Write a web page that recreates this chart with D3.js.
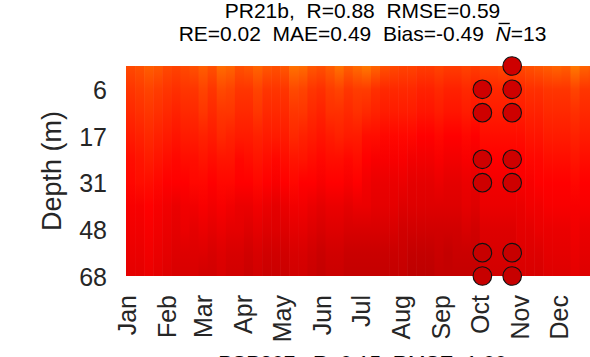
<!DOCTYPE html>
<html><head><meta charset="utf-8">
<script src="https://cdn.jsdelivr.net/npm/d3@7"></script>
<style>
html,body{margin:0;padding:0;background:#fff;}
svg{display:block;font-family:"Liberation Sans",Arial,sans-serif;}
</style></head>
<body><svg id="c" width="590" height="357"></svg>
<script>
// depth levels (m) for each row of the model grid
const depthLevels = [1, 6, 11, 17, 24, 31, 39, 48, 58, 68];
const depthTickRows = [1, 3, 5, 7, 9];
const monthNames = ["Jan","Feb","Mar","Apr","May","Jun","Jul","Aug","Sep","Oct","Nov","Dec"];
const monthStartDays = [1, 32, 60, 91, 121, 152, 182, 213, 244, 274, 305, 335];
// weekly model values (52 weeks) per depth level
const t01m = [28.3,28.4,28.6,28.5,28.3,28.2,28.3,28.4,28.6,28.4,28.8,28.7,28.4,28.5,28.7,28.5,28.4,28.5,28.9,28.8,28.5,28.4,28.6,28.9,28.6,28.8,29.0,28.7,28.4,28.3,28.2,28.2,28.1,28.1,28.2,28.1,28.1,28.2,28.1,28.2,28.2,28.3,28.2,28.3,28.4,28.5,28.6,28.7,28.6,29.0,28.7,28.6];
const t06m = [28.0,28.1,28.2,28.1,28.0,27.9,28.0,28.0,28.2,28.0,28.3,28.2,28.0,28.0,28.2,28.0,28.0,28.0,28.3,28.2,28.0,27.9,28.1,28.2,28.0,28.1,28.1,27.9,27.8,27.8,27.8,27.8,27.7,27.7,27.8,27.7,27.7,27.8,27.7,27.8,27.8,27.8,27.8,27.8,27.9,27.9,28.0,28.0,28.0,28.2,28.0,28.0];
const t11m = [27.8,27.9,28.0,27.9,27.8,27.7,27.8,27.8,28.0,27.8,28.0,28.0,27.8,27.8,28.0,27.8,27.8,27.8,28.0,28.0,27.8,27.7,27.9,27.9,27.8,27.9,27.8,27.7,27.6,27.6,27.6,27.6,27.5,27.5,27.6,27.5,27.5,27.6,27.5,27.6,27.6,27.6,27.6,27.6,27.7,27.7,27.8,27.8,27.8,27.9,27.8,27.8];
const t17m = [27.6,27.7,27.8,27.7,27.6,27.5,27.6,27.6,27.7,27.6,27.8,27.7,27.6,27.6,27.7,27.6,27.6,27.6,27.8,27.7,27.6,27.5,27.6,27.7,27.6,27.6,27.4,27.4,27.3,27.3,27.3,27.3,27.2,27.2,27.3,27.2,27.2,27.3,27.2,27.4,27.4,27.4,27.4,27.4,27.5,27.5,27.6,27.6,27.6,27.7,27.6,27.6];
const t24m = [27.4,27.5,27.6,27.5,27.4,27.3,27.4,27.4,27.5,27.4,27.5,27.5,27.3,27.4,27.5,27.4,27.3,27.4,27.5,27.5,27.4,27.3,27.4,27.4,27.3,27.4,27.2,27.1,27.1,27.1,27.1,27.0,27.0,27.0,27.1,27.0,27.0,27.1,27.0,27.2,27.2,27.2,27.2,27.2,27.3,27.3,27.4,27.4,27.4,27.5,27.4,27.4];
const t31m = [27.3,27.4,27.4,27.3,27.2,27.2,27.2,27.3,27.3,27.2,27.3,27.3,27.2,27.2,27.3,27.2,27.1,27.2,27.3,27.2,27.2,27.1,27.2,27.2,27.1,27.2,27.0,26.9,26.9,26.9,26.9,26.8,26.8,26.8,26.9,26.8,26.8,26.9,26.8,27.0,27.0,27.0,27.0,27.1,27.1,27.2,27.2,27.2,27.2,27.3,27.2,27.2];
const t39m = [27.1,27.1,27.2,27.1,27.0,26.9,27.0,27.0,27.1,27.0,27.1,27.0,26.9,26.9,27.0,26.9,26.8,26.9,27.0,27.0,26.9,26.8,26.9,26.9,26.8,26.9,26.9,26.8,26.8,26.8,26.7,26.7,26.7,26.7,26.7,26.7,26.7,26.8,26.7,26.9,26.9,26.9,26.9,26.9,27.0,27.0,27.1,27.1,27.1,27.1,27.1,27.1];
const t48m = [27.0,27.0,27.1,27.0,26.9,26.8,26.9,26.8,26.9,26.8,26.9,26.8,26.8,26.7,26.8,26.7,26.7,26.7,26.8,26.8,26.7,26.6,26.7,26.7,26.6,26.6,26.6,26.6,26.6,26.6,26.5,26.5,26.5,26.5,26.5,26.5,26.5,26.6,26.5,26.7,26.7,26.7,26.7,26.8,26.8,26.9,26.9,26.9,26.9,27.0,26.9,26.9];
const t58m = [26.9,26.9,27.0,26.9,26.8,26.7,26.7,26.7,26.7,26.6,26.7,26.6,26.6,26.5,26.6,26.5,26.5,26.5,26.6,26.6,26.5,26.4,26.5,26.5,26.4,26.4,26.4,26.4,26.4,26.4,26.4,26.3,26.3,26.3,26.4,26.3,26.4,26.4,26.4,26.6,26.6,26.6,26.6,26.7,26.7,26.7,26.8,26.8,26.8,26.9,26.8,26.8];
const t68m = [26.8,26.8,26.9,26.8,26.7,26.6,26.6,26.6,26.5,26.5,26.6,26.5,26.5,26.4,26.5,26.4,26.4,26.4,26.5,26.5,26.4,26.3,26.4,26.4,26.3,26.3,26.3,26.3,26.3,26.3,26.3,26.2,26.2,26.2,26.3,26.3,26.3,26.3,26.3,26.5,26.5,26.5,26.6,26.6,26.6,26.6,26.7,26.7,26.7,26.8,26.7,26.7];
const modelRows = [t01m,t06m,t11m,t17m,t24m,t31m,t39m,t48m,t58m,t68m];
// observations (day of year, row index, value)
const obsDay = [276,276,276,276,276,276,299,299,299,299,299,299,299];
const obsRow = [1,2,4,5,8,9,0,1,2,4,5,8,9];
const obsVal = [26.45,26.45,26.45,26.45,26.35,26.35,26.45,26.45,26.45,26.45,26.45,26.35,26.35];
const titleLine1 = "PR21b,  R=0.88  RMSE=0.59";
const titleLine2a = "RE=0.02  MAE=0.49  Bias=-0.49  ";
const titleLine2N = "N";
const titleLine2b = "=13";
const nextTitle = "PSP307,  R=0.15  RMSE=1.00";

const svg = d3.select("#c");
const x = d3.scaleLinear().domain([1, 366]).range([126, 599]);
const y = d3.scaleLinear().domain([0, 9]).range([66, 276]);
const color = d3.scaleLinear().domain([26.0, 27.2, 29.0]).range(["#b00000", "#ff0000", "#ff7800"]).clamp(true);

const defs = svg.append("defs");
defs.append("clipPath").attr("id","plotclip").append("rect")
  .attr("x", x(1)).attr("y", y(0)).attr("width", x(366)-x(1)).attr("height", y(9)-y(0));

const nWeeks = t01m.length;
const weeks = d3.range(nWeeks);
weeks.forEach(w => {
  const g = defs.append("linearGradient").attr("id","col"+w)
    .attr("x1",0).attr("x2",0).attr("y1",0).attr("y2",1);
  modelRows.forEach((row,i) => {
    g.append("stop").attr("offset", (i/9*100)+"%").attr("stop-color", color(row[w]));
  });
});
const heat = svg.append("g").attr("clip-path","url(#plotclip)");
heat.selectAll("rect").data(weeks).join("rect")
  .attr("x", w => x(1 + 7*w))
  .attr("width", w => x(w === nWeeks-1 ? 366 : 8 + 7*w) - x(1 + 7*w) + 0.6)
  .attr("y", y(0)).attr("height", y(9)-y(0))
  .attr("fill", w => "url(#col"+w+")");

// observation circles
const circ = svg.append("g");
circ.selectAll("circle").data(obsDay.map((d,i)=>({d, r:obsRow[i], v:obsVal[i]}))).join("circle")
  .attr("cx", o => x(o.d)).attr("cy", o => y(o.r)).attr("r", 9.3)
  .attr("fill", o => color(o.v)).attr("stroke","#111").attr("stroke-width",1.1);

// y axis
const yAxis = d3.axisLeft(y).tickValues(depthTickRows).tickFormat(i => depthLevels[i]).tickSize(0).tickPadding(19);
const ya = svg.append("g").attr("transform","translate("+x(1)+",0)").call(yAxis);
ya.select(".domain").remove();
ya.selectAll("text").attr("font-size",25).attr("font-family","Liberation Sans, Arial, sans-serif").attr("fill","#262626").attr("dy","0.36em");

// x axis
const xAxis = d3.axisBottom(x).tickValues(monthStartDays).tickFormat((d,i)=>monthNames[i]).tickSize(0).tickPadding(0);
const xa = svg.append("g").attr("transform","translate(0,"+y(9)+")").call(xAxis);
xa.select(".domain").remove();
xa.selectAll("text").attr("font-size",25).attr("font-family","Liberation Sans, Arial, sans-serif").attr("fill","#262626")
  .attr("text-anchor","end").attr("transform","rotate(-90)").attr("x",-19).attr("y",0).attr("dy","0.36em");

// y label
svg.append("text").attr("transform","translate(61,171) rotate(-90)").attr("text-anchor","middle")
  .attr("font-size",27).attr("fill","#262626").text("Depth (m)");

// titles
const cx = (x(1)+x(366))/2;
svg.append("text").attr("x",cx).attr("y",18).attr("text-anchor","middle").attr("font-size",21).attr("fill","#000")
  .style("white-space","pre").text(titleLine1);
const t2 = svg.append("text").attr("x",cx).attr("y",41).attr("text-anchor","middle").attr("font-size",21).attr("fill","#000")
  .style("white-space","pre");
t2.append("tspan").text(titleLine2a);
t2.append("tspan").attr("font-style","italic").text(titleLine2N);
t2.append("tspan").text(titleLine2b);
// overbar above N
const nBox = t2.node().getExtentOfChar(titleLine2a.length);
svg.append("line").attr("x1", nBox.x + 3).attr("x2", nBox.x + nBox.width - 1)
  .attr("y1", 23.5).attr("y2", 23.5).attr("stroke","#000").attr("stroke-width",1.4);

svg.append("text").attr("x",cx).attr("y",370).attr("text-anchor","middle").attr("font-size",21).attr("fill","#000")
  .style("white-space","pre").text(nextTitle);
</script></body></html>
